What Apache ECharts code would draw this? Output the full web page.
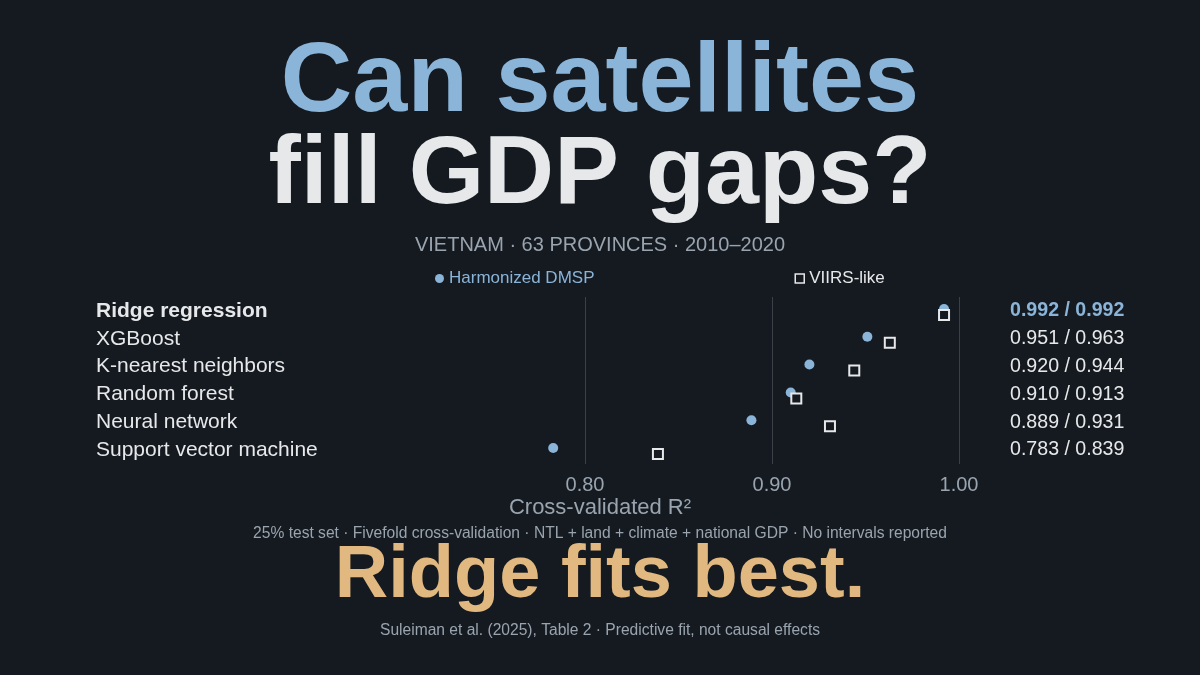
<!DOCTYPE html>
<html>
<head>
<meta charset="utf-8">
<title>Can satellites fill GDP gaps?</title>
<script src="https://cdn.jsdelivr.net/npm/echarts@6/dist/echarts.min.js"></script>
<style>
  html, body { margin: 0; padding: 0; background: #151a21; }
  #chart { width: 1200px; height: 675px; }
</style>
</head>
<body>
<div id="chart"></div>
<script>
// 数据
const methods = ['Ridge regression', 'XGBoost', 'K-nearest neighbors', 'Random forest', 'Neural network', 'Support vector machine']
const dmspR2 = [0.992, 0.951, 0.920, 0.910, 0.889, 0.783]
const viirsR2 = [0.992, 0.963, 0.944, 0.913, 0.931, 0.839]
const gridTicks = [0.8, 0.9, 1.0]

const FONT = '"Liberation Sans", Arial, sans-serif'
const BLUE = '#8ab4d8'
const WHITE = '#e6e8ea'
const GRAY = '#9aa4ae'
const TAN = '#e0b880'
const BG = '#151a21'

const valueLabels = dmspR2.map((v, i) => v.toFixed(3) + ' / ' + viirsR2[i].toFixed(3))

const chart = echarts.init(document.getElementById('chart'))

function centerText(text, y, size, color, weight) {
  return {
    type: 'text',
    style: {
      x: 600, y: y, text: text,
      align: 'center', verticalAlign: 'middle',
      fill: color, font: (weight || 'normal') + ' ' + size + 'px ' + FONT
    }
  }
}

const option = {
  backgroundColor: BG,
  textStyle: { fontFamily: FONT },
  animation: false,
  graphic: [
    centerText('Can satellites', 84, 99, BLUE, 'bold'),
    centerText('fill GDP gaps?', 176, 97, WHITE, 'bold'),
    centerText('VIETNAM · 63 PROVINCES · 2010–2020', 245, 20, GRAY),
    centerText('Cross-validated R²', 508, 22, GRAY),
    centerText('25% test set · Fivefold cross-validation · NTL + land + climate + national GDP · No intervals reported', 534, 15.6, GRAY),
    centerText('Ridge fits best.', 577, 74, TAN, 'bold'),
    centerText('Suleiman et al. (2025), Table 2 · Predictive fit, not causal effects', 631, 15.6, GRAY)
  ],
  legend: {
    left: 435,
    top: 270,
    padding: 0,
    itemWidth: 9,
    itemHeight: 9,
    itemGap: 200,
    textStyle: { fontSize: 17, fontFamily: FONT },
    data: [
      { name: 'Harmonized DMSP', icon: 'circle', textStyle: { color: BLUE } },
      { name: 'VIIRS-like', icon: 'rect', itemStyle: { color: BG, borderColor: WHITE, borderWidth: 1.5 }, textStyle: { color: WHITE } }
    ]
  },
  grid: {
    left: 398,
    right: 241,
    top: 297,
    height: 167
  },
  xAxis: {
    type: 'value',
    min: 0.7,
    max: 1.0,
    interval: 0.1,
    axisLine: { show: false },
    axisTick: { show: false },
    splitLine: { show: false },
    axisLabel: {
      showMinLabel: false,
      margin: 11,
      color: GRAY,
      fontSize: 20,
      fontFamily: FONT,
      formatter: v => v.toFixed(2)
    }
  },
  yAxis: [
    {
      type: 'category',
      inverse: true,
      data: methods,
      axisLine: { show: false },
      axisTick: { show: false },
      axisLabel: {
        align: 'left',
        margin: 302,
        formatter: (v, i) => (i === 0 ? '{b|' + v + '}' : '{n|' + v + '}'),
        rich: {
          b: { color: WHITE, fontSize: 21, fontWeight: 'bold', fontFamily: FONT },
          n: { color: WHITE, fontSize: 21, fontFamily: FONT }
        }
      }
    },
    {
      type: 'category',
      inverse: true,
      position: 'right',
      data: valueLabels,
      axisLine: { show: false },
      axisTick: { show: false },
      axisLabel: {
        align: 'left',
        margin: 51,
        formatter: (v, i) => (i === 0 ? '{b|' + v + '}' : '{n|' + v + '}'),
        rich: {
          b: { color: BLUE, fontSize: 19.6, fontWeight: 'bold', fontFamily: FONT },
          n: { color: WHITE, fontSize: 19.6, fontFamily: FONT }
        }
      }
    }
  ],
  series: [
    {
      name: 'Harmonized DMSP',
      type: 'scatter',
      data: dmspR2,
      symbol: 'circle',
      symbolSize: 10,
      symbolOffset: [0, -2],
      itemStyle: { color: BLUE, opacity: 1 },
      markLine: {
        silent: true,
        symbol: 'none',
        label: { show: false },
        lineStyle: { color: '#3a4049', width: 1, type: 'solid' },
        data: gridTicks.map(t => ({ xAxis: t }))
      },
      z: 2
    },
    {
      name: 'VIIRS-like',
      type: 'scatter',
      data: viirsR2,
      symbol: 'rect',
      symbolSize: 10,
      symbolOffset: [0, 4],
      itemStyle: { color: BG, borderColor: WHITE, borderWidth: 2, opacity: 1 },
      z: 3
    }
  ]
}

// 散点图: 横轴为数值，纵轴为类别
option.series.forEach(s => {
  s.encode = { x: 0, y: 1 }
  s.data = s.data.map((v, i) => [v, i])
})

chart.setOption(option)
</script>
</body>
</html>
